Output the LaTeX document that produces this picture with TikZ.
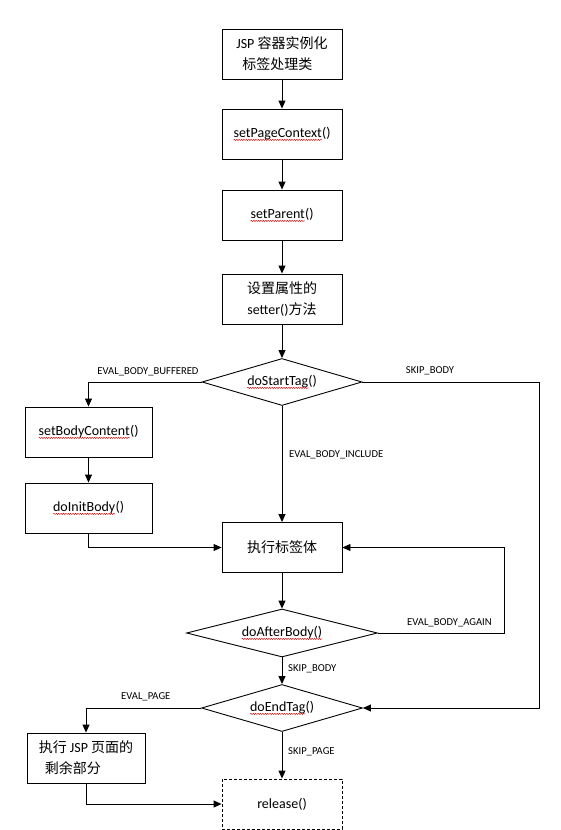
\documentclass[tikz,border=0pt]{standalone}
\usepackage{fontspec}
\setmainfont{Carlito}
\newfontfamily\cjk{Noto Sans CJK SC}
\usetikzlibrary{shapes.geometric,arrows.meta,decorations.pathmorphing}

% word with a red wavy underline
\newcommand\spell[1]{\tikz[baseline=(sw.base)]{%
  \node[shape=rectangle,draw=none,fill=none,inner sep=0pt,outer sep=0pt,minimum size=0pt](sw){#1};%
  \draw[-,solid,draw=red!85!black,line width=0.45pt,decorate,
        decoration={snake,amplitude=0.6pt,segment length=2.4pt}]
       ([yshift=-2.4pt]sw.base west)--([yshift=-2.4pt]sw.base east);}}

\begin{document}
\begin{tikzpicture}[x=1pt,y=-1pt,
  stepbox/.style={draw,line width=0.9pt,minimum width=120pt,minimum height=50pt,
    inner sep=2pt,font=\fontsize{14}{21}\selectfont,align=center},
  decision/.style={draw,diamond,line width=0.9pt,inner sep=0pt,
    font=\fontsize{14}{16}\selectfont},
  flow/.style={line width=0.9pt,-{Triangle[length=8pt,width=7pt]}},
  tag/.style={font=\fontsize{10.6}{12}\selectfont,inner sep=0pt}]
\useasboundingbox (0,0) rectangle (560,830);

% main column
\node[stepbox,align=left] (init) at (282,54) {JSP {\cjk 容器实例化}\\\hspace{6pt}{\cjk 标签处理类}};
\node[stepbox] (ctx) at (282,134) {\spell{setPageContext}()};
\node[stepbox] (parent) at (282,215) {\spell{setParent}()};
\node[stepbox] (attr) at (282,299) {{\cjk 设置属性的}\\setter(){\cjk 方法}};
\node[decision,minimum width=160pt,minimum height=47pt,aspect=3.4] (start) at (282,382) {\spell{doStartTag}()};
\node[stepbox,minimum width=127pt] (bodyc) at (88.5,432) {\spell{setBodyContent}()};
\node[stepbox,minimum width=127pt] (initb) at (88.5,508) {\spell{doInitBody}()};
\node[stepbox] (body) at (282,547.5) {\cjk 执行标签体};
\node[decision,minimum width=191pt,minimum height=48pt,aspect=3.98] (after) at (282,633) {\spell{doAfterBody()}};
\node[decision,minimum width=161pt,minimum height=47pt,aspect=3.43] (end) at (282,708) {\spell{doEndTag}()};
\node[stepbox,minimum width=118pt,align=left] (rest) at (86,758) {{\cjk 执行} JSP {\cjk 页面的}\\\hspace{6pt}{\cjk 剩余部分}};
\node[stepbox,dash pattern=on 3pt off 2pt] (release) at (282,804) {release()};

% branch labels
\node[tag] (lbuf) at (148,372) {EVAL\_BODY\_BUFFERED};
\node[tag] (lskip) at (430,371) {SKIP\_BODY};
\node[tag,anchor=west] (linc) at (289,455) {EVAL\_BODY\_INCLUDE};
\node[tag,anchor=west] (lagain) at (407,623) {EVAL\_BODY\_AGAIN};
\node[tag,anchor=west] (lskip2) at (288,669) {SKIP\_BODY};
\node[tag,anchor=west] (lpage) at (121,697) {EVAL\_PAGE};
\node[tag,anchor=west] (lskippage) at (288,752) {SKIP\_PAGE};

% bend points of the long returns
\coordinate (skipR) at (539,382);
\coordinate (againR) at (504,633);

% connectors
\draw[flow] (init) -- (ctx);
\draw[flow] (ctx) -- (parent);
\draw[flow] (parent) -- (attr);
\draw[flow] (attr) -- (start);
\draw[flow] (start.west) -| (bodyc.north);
\draw[flow] (start.south) -- (body.north);
\draw[flow] (start.east) -- (skipR) |- (end.east);
\draw[flow] (bodyc) -- (initb);
\draw[flow] (initb.south) |- (body.west);
\draw[flow] (body) -- (after);
\draw[flow] (after.east) -- (againR) |- (body.east);
\draw[flow] (after) -- (end);
\draw[flow] (end.west) -| (rest.north);
\draw[flow] (end) -- (release);
\draw[flow] (rest.south) |- (release.west);
\end{tikzpicture}
\end{document}
